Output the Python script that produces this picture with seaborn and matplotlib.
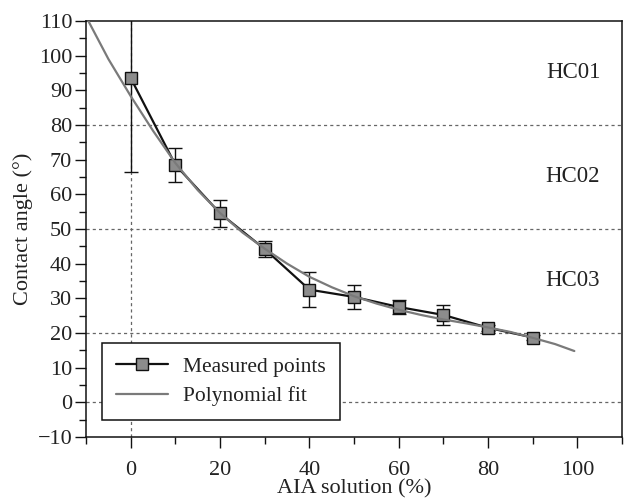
import numpy as np
import pandas as pd
import matplotlib
matplotlib.use('Agg')
import matplotlib.pyplot as plt
from matplotlib.ticker import MultipleLocator
import seaborn as sns

# Measured contact angles with error bars
conc = [0, 10, 20, 30, 40, 50, 60, 70, 80, 90]
angle = [93.5, 68.5, 54.5, 44.2, 32.5, 30.4, 27.5, 25.2, 21.5, 18.7]
err = [27.0, 5.0, 4.0, 2.3, 5.0, 3.5, 2.0, 2.9, 0.8, 0.8]

# Polynomial fit curve
fit_x = [-9.5, -5, 0, 5, 10, 15, 20, 25, 30, 35, 40, 45, 50, 55, 60, 65, 70, 75, 80, 85, 90, 95, 99.3]
fit_y = [110, 99, 88.3, 78.3, 69.0, 61.2, 54.6, 49.0, 44.3, 40.0, 36.2, 33.2, 30.6, 28.5, 26.7, 25.2, 23.9, 22.8, 21.6, 20.3, 18.6, 16.8, 14.8]

bands = ['HC01', 'HC02', 'HC03']
band_y = [95, 65, 35]
hlines = [0, 20, 50, 80]

sns.set_style('ticks')
plt.rcParams['font.family'] = ['Liberation Serif', 'DejaVu Serif']

fig, ax = plt.subplots(figsize=(6.24, 5.0), dpi=100)
fig.subplots_adjust(left=0.138, right=0.997, top=0.958, bottom=0.126)

grid_kw = dict(color='#666666', lw=0.9, ls=(0, (2.5, 2.5)), zorder=0)
for h in hlines:
    ax.axhline(h, **grid_kw)
ax.axvline(0, **grid_kw)

fit = pd.DataFrame({'x': fit_x, 'y': fit_y})
meas = pd.DataFrame({'x': conc, 'y': angle})

ax.errorbar(conc, angle, yerr=err, fmt='none', ecolor='#111111',
            elinewidth=1.0, capsize=5, capthick=1.0, zorder=2)
sns.lineplot(data=meas, x='x', y='y', ax=ax, color='#111111', lw=1.6,
             marker='s', markersize=8, markerfacecolor='#8c8c8c',
             markeredgecolor='#111111', markeredgewidth=1.0,
             label='Measured points', zorder=3)
sns.lineplot(data=fit, x='x', y='y', ax=ax, color='#7a7a7a', lw=1.6,
             label='Polynomial fit', zorder=4)

for name, yy in zip(bands, band_y):
    ax.text(99, yy, name, ha='center', va='center', fontsize=16.5, color='#222222')

ax.set_xlim(-10, 110)
ax.set_ylim(-10, 110)
ax.xaxis.set_minor_locator(MultipleLocator(10))
ax.yaxis.set_minor_locator(MultipleLocator(5))
ax.set_xticks([0, 20, 40, 60, 80, 100])
ax.tick_params(which='major', direction='out', length=8, width=1, labelsize=16,
               colors='#111111', labelcolor='#222222')
ax.tick_params(which='minor', direction='out', length=5, width=1, colors='#111111')
ax.tick_params(axis='x', pad=9)
ax.tick_params(axis='y', pad=2)
ax.set_yticks(range(-10, 111, 10))
ax.set_yticklabels(['\u221210'] + [str(v) for v in range(0, 111, 10)])

for s in ax.spines.values():
    s.set_visible(True)
    s.set_color('#111111')
    s.set_linewidth(1.1)

ax.set_xlabel('AIA solution (%)', fontsize=16, color='#222222', labelpad=0)
ax.set_ylabel('Contact angle (\u00b0)', fontsize=16, color='#222222', labelpad=3)

leg = ax.legend(loc='lower left', bbox_to_anchor=(0.03, 0.04), fontsize=15.5,
                frameon=True, fancybox=False, edgecolor='#111111',
                framealpha=1, handlelength=2.4, handletextpad=0.7,
                borderpad=0.65, labelspacing=0.45, borderaxespad=0)
leg.get_frame().set_linewidth(1.1)
for t in leg.get_texts():
    t.set_color('#222222')

plt.savefig('out.png', dpi=100)
